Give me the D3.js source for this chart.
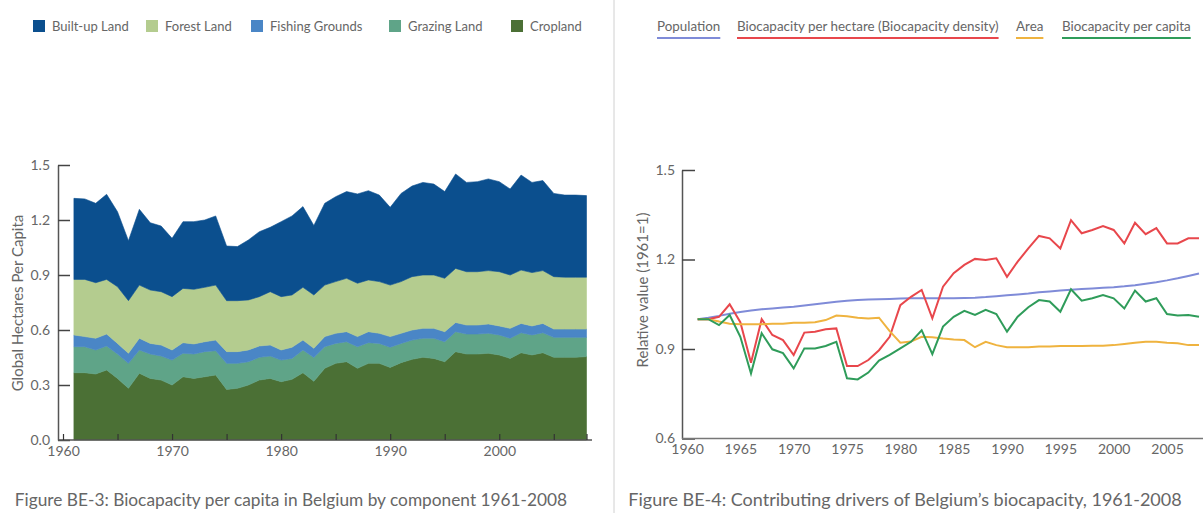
<!DOCTYPE html>
<html>
<head>
<meta charset="utf-8">
<script src="https://cdn.jsdelivr.net/npm/d3@7/dist/d3.min.js"></script>
<style>
  body { margin: 0; background: #fff; }
  text { font-family: Lato, "Open Sans", sans-serif; fill: #666; }
</style>
</head>
<body>
<div id="chart"></div>
<script>
// ---------------- data ----------------
const years = d3.range(1961, 2009);

// Figure BE-3 components (global hectares per capita)
const cropland = [0.367,0.367,0.360,0.382,0.336,0.282,0.364,0.336,0.327,0.300,0.345,0.336,0.345,0.355,0.276,0.282,0.300,0.327,0.336,0.318,0.331,0.367,0.320,
  0.391,0.418,0.427,0.391,0.418,0.418,0.396,0.422,0.440,0.451,0.445,0.427,0.482,0.469,0.469,0.473,0.464,0.445,0.476,0.464,0.476,0.451,0.451,0.451,0.455];
const grazing = [0.142,0.142,0.131,0.131,0.133,0.136,0.127,0.133,0.131,0.136,0.128,0.133,0.137,0.132,0.142,0.136,0.127,0.124,0.122,0.118,0.114,0.124,0.130,
  0.118,0.109,0.109,0.118,0.113,0.109,0.110,0.105,0.105,0.104,0.110,0.109,0.109,0.109,0.109,0.109,0.109,0.110,0.109,0.109,0.109,0.109,0.109,0.109,0.105];
const fishing = [0.064,0.055,0.064,0.065,0.058,0.055,0.064,0.058,0.060,0.055,0.058,0.055,0.054,0.058,0.064,0.064,0.064,0.062,0.060,0.055,0.061,0.054,0.050,
  0.055,0.055,0.055,0.055,0.060,0.055,0.058,0.055,0.055,0.054,0.054,0.055,0.050,0.049,0.049,0.051,0.049,0.054,0.051,0.049,0.051,0.045,0.045,0.045,0.045];
const forest = [0.303,0.312,0.303,0.298,0.309,0.287,0.290,0.291,0.291,0.291,0.296,0.298,0.297,0.300,0.278,0.278,0.273,0.269,0.291,0.291,0.285,0.288,0.291,
  0.281,0.282,0.291,0.291,0.282,0.282,0.281,0.282,0.291,0.291,0.291,0.291,0.295,0.291,0.291,0.291,0.296,0.291,0.291,0.291,0.288,0.286,0.283,0.283,0.283];
const builtup = [0.442,0.439,0.433,0.464,0.409,0.327,0.413,0.367,0.358,0.318,0.364,0.369,0.367,0.377,0.298,0.295,0.327,0.354,0.351,0.409,0.431,0.440,0.379,
  0.446,0.463,0.473,0.487,0.487,0.472,0.424,0.481,0.494,0.505,0.496,0.473,0.515,0.487,0.491,0.500,0.491,0.469,0.518,0.492,0.491,0.454,0.448,0.448,0.445];

// Figure BE-4 drivers (relative value, 1961 = 1)
const population = [1.000,1.005,1.011,1.018,1.024,1.029,1.033,1.036,1.039,1.042,1.046,1.050,1.054,1.058,1.062,1.064,1.066,1.067,1.068,1.069,1.070,1.070,1.070,
  1.070,1.070,1.071,1.072,1.074,1.077,1.080,1.083,1.086,1.090,1.093,1.096,1.099,1.101,1.103,1.105,1.107,1.110,1.114,1.119,1.124,1.130,1.137,1.145,1.153];
const bioPerHectare = [1.000,1.000,1.008,1.050,0.990,0.854,1.000,0.947,0.930,0.880,0.955,0.958,0.966,0.969,0.843,0.843,0.863,0.896,0.941,1.047,1.075,1.098,1.003,
  1.109,1.154,1.182,1.202,1.198,1.204,1.142,1.193,1.237,1.279,1.271,1.237,1.332,1.288,1.299,1.312,1.299,1.254,1.323,1.285,1.305,1.254,1.254,1.271,1.271];
const area = [1.000,1.000,0.992,0.985,0.983,0.983,0.983,0.985,0.985,0.988,0.988,0.990,0.997,1.012,1.010,1.005,1.002,1.005,0.960,0.921,0.925,0.941,0.939,
  0.935,0.932,0.930,0.906,0.924,0.913,0.906,0.906,0.906,0.908,0.908,0.910,0.910,0.910,0.911,0.911,0.913,0.917,0.921,0.924,0.924,0.921,0.919,0.913,0.913];
const bioPerCapita = [1.000,1.000,0.980,1.014,0.941,0.818,0.953,0.899,0.886,0.835,0.902,0.902,0.910,0.924,0.802,0.798,0.821,0.861,0.880,0.902,0.924,0.963,0.883,
  0.975,1.008,1.028,1.014,1.031,1.017,0.958,1.008,1.040,1.064,1.059,1.025,1.100,1.062,1.070,1.081,1.070,1.036,1.096,1.059,1.070,1.017,1.012,1.014,1.008];

const leftTicksY = [0, 0.3, 0.6, 0.9, 1.2, 1.5];
const rightTicksY = [0.6, 0.9, 1.2, 1.5];
const tickYears = [1960, 1965, 1970, 1975, 1980, 1985, 1990, 1995, 2000, 2005];

// ---------------- setup ----------------
const width = 1203;
const height = 513;
const svg = d3.select('#chart').append('svg')
  .attr('width', width)
  .attr('height', height);

// separator
svg.append('line')
  .attr('x1', 614).attr('x2', 614).attr('y1', 0).attr('y2', height)
  .attr('stroke', '#d0d0d0').attr('stroke-width', 1);

// ================= left: stacked area =================
const layers = [
  { key: 'Cropland', values: cropland, color: '#4b7035' },
  { key: 'Grazing Land', values: grazing, color: '#5fa488' },
  { key: 'Fishing Grounds', values: fishing, color: '#4a86c6' },
  { key: 'Forest Land', values: forest, color: '#b4cc8f' },
  { key: 'Built-up Land', values: builtup, color: '#0b4f8e' }
];
const table = years.map((yr, i) => {
  const row = { year: yr };
  layers.forEach((l) => { row[l.key] = l.values[i]; });
  return row;
});
const stacked = d3.stack().keys(layers.map((l) => l.key))(table);

const xL = d3.scaleLinear().domain([1960, 2008]).range([63, 586.5]);
const yL = d3.scaleLinear().domain([0, 1.5]).range([440, 165]);

const areaGen = d3.area()
  .x((d) => xL(d.data.year))
  .y0((d) => yL(d[0]))
  .y1((d) => yL(d[1]));

svg.append('g').selectAll('path')
  .data(stacked)
  .enter()
  .append('path')
  .attr('d', areaGen)
  .attr('fill', (d, i) => layers[i].color)
  .attr('stroke', (d, i) => layers[i].color)
  .attr('stroke-width', 0.6);

// y axis
const yAxisL = svg.append('g')
  .attr('transform', 'translate(58,0)')
  .call(d3.axisLeft(yL).tickValues(leftTicksY).tickFormat(d3.format('.1f'))
    .tickSizeInner(-12).tickSizeOuter(0).tickPadding(8));
yAxisL.select('.domain').attr('stroke', '#555').attr('stroke-width', 1.5);
yAxisL.selectAll('.tick line').attr('stroke', '#444').attr('stroke-width', 1.5);
yAxisL.selectAll('text').attr('font-size', 14).attr('fill', '#666');

// x axis
svg.append('line')
  .attr('x1', 58).attr('x2', 592).attr('y1', 440).attr('y2', 440)
  .attr('stroke', '#555').attr('stroke-width', 1.5);
const xAxisL = svg.append('g')
  .attr('transform', 'translate(0,440)')
  .call(d3.axisBottom(xL).tickValues(tickYears.concat([2008]))
    .tickFormat((d) => (d % 10 === 0 ? d : ''))
    .tickSizeInner(-6).tickSizeOuter(0).tickPadding(6));
xAxisL.select('.domain').remove();
xAxisL.selectAll('.tick line').attr('stroke', '#333').attr('stroke-width', 1.2);
xAxisL.selectAll('text').attr('font-size', 14).attr('fill', '#666');

svg.append('text')
  .attr('transform', 'translate(23,303) rotate(-90)')
  .attr('text-anchor', 'middle')
  .attr('font-size', 15)
  .text('Global Hectares Per Capita');

// legend
const legendLX = [33, 146, 251, 389, 511];
const legendL = svg.append('g');
layers.slice().reverse().forEach((l, i) => {
  legendL.append('rect')
    .attr('x', legendLX[i]).attr('y', 20)
    .attr('width', 12).attr('height', 12)
    .attr('fill', l.color);
  legendL.append('text')
    .attr('x', legendLX[i] + 19).attr('y', 31)
    .attr('font-size', 13)
    .attr('fill', '#555')
    .text(l.key);
});

svg.append('text')
  .attr('x', 291).attr('y', 506)
  .attr('text-anchor', 'middle')
  .attr('font-size', 17.3)
  .attr('fill', '#555')
  .text('Figure BE-3: Biocapacity per capita in Belgium by component 1961-2008');

// ================= right: lines =================
const series = [
  { key: 'Population', values: population, color: '#7f8bd8' },
  { key: 'Biocapacity per hectare (Biocapacity density)', values: bioPerHectare, color: '#e8474c' },
  { key: 'Area', values: area, color: '#efb33f' },
  { key: 'Biocapacity per capita', values: bioPerCapita, color: '#2f9c5a' }
];

const xR = d3.scaleLinear().domain([1960, 2008]).range([687, 1199]);
const yR = d3.scaleLinear().domain([0.6, 1.5]).range([438.5, 170]);

const lineGen = d3.line()
  .x((d, i) => xR(years[i]))
  .y((d) => yR(d));

svg.append('g').selectAll('path')
  .data(series)
  .enter()
  .append('path')
  .attr('d', (d) => lineGen(d.values))
  .attr('fill', 'none')
  .attr('stroke', (d) => d.color)
  .attr('stroke-width', 2);

const yAxisR = svg.append('g')
  .attr('transform', 'translate(682,0)')
  .call(d3.axisLeft(yR).tickValues(rightTicksY).tickFormat(d3.format('.1f'))
    .tickSizeInner(-13).tickSizeOuter(0).tickPadding(7));
yAxisR.select('.domain').attr('stroke', '#555').attr('stroke-width', 1.5);
yAxisR.selectAll('.tick line').attr('stroke', '#444').attr('stroke-width', 1.5);
yAxisR.selectAll('text').attr('font-size', 14).attr('fill', '#666');

svg.append('line')
  .attr('x1', 682).attr('x2', 1203).attr('y1', 438.5).attr('y2', 438.5)
  .attr('stroke', '#777').attr('stroke-width', 1.5);
const xAxisR = svg.append('g')
  .attr('transform', 'translate(0,438.5)')
  .call(d3.axisBottom(xR).tickValues(tickYears).tickFormat(d3.format('d'))
    .tickSize(0).tickPadding(6));
xAxisR.select('.domain').remove();
xAxisR.selectAll('text').attr('font-size', 14).attr('fill', '#666');

svg.append('text')
  .attr('transform', 'translate(648,290) rotate(-90)')
  .attr('text-anchor', 'middle')
  .attr('font-size', 15)
  .text('Relative value (1961=1)');

// legend with underlines
const legendRX = [657, 737, 1016, 1062];
series.forEach((s, i) => {
  const t = svg.append('text')
    .attr('x', legendRX[i]).attr('y', 31)
    .attr('font-size', 13.4)
    .attr('fill', '#555')
    .text(s.key);
  const w = t.node().getComputedTextLength();
  svg.append('line')
    .attr('x1', legendRX[i]).attr('x2', legendRX[i] + w)
    .attr('y1', 38).attr('y2', 38)
    .attr('stroke', s.color).attr('stroke-width', 2);
});

svg.append('text')
  .attr('x', 905).attr('y', 506)
  .attr('text-anchor', 'middle')
  .attr('font-size', 18)
  .attr('fill', '#555')
  .text('Figure BE-4: Contributing drivers of Belgium\u2019s biocapacity, 1961-2008');
</script>
</body>
</html>
